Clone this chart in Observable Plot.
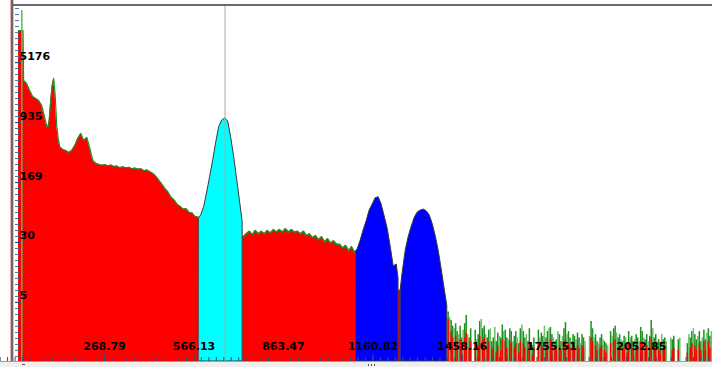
<!DOCTYPE html>
<html><head><meta charset="utf-8">
<script src="https://cdn.jsdelivr.net/npm/d3@7"></script>
<script src="https://cdn.jsdelivr.net/npm/@observablehq/plot@0.6"></script>
<style>
html,body{margin:0;padding:0;background:#fff;overflow:hidden;width:712px;height:367px}
#chart{position:absolute;left:0;top:0}
.chrome{position:absolute}
#scroll{left:0;top:361px;width:712px;height:6px;background:#f0f0f0;border-top:1px solid #a0a0a0;box-sizing:border-box}
.dot{position:absolute;width:1px;height:2px;background:#555;top:2px}
</style></head><body>
<div id="chart"></div>
<div class="chrome" style="left:10px;top:0;width:1px;height:361px;background:#e0b0b0"></div>
<div class="chrome" style="left:11px;top:0;width:2px;height:361px;background:#6a6a6a"></div>
<div class="chrome" style="left:13px;top:0;width:1px;height:361px;background:#c8c8c8"></div>
<div class="chrome" style="left:12px;top:4px;width:700px;height:2px;background:#6a6a6a"></div>
<div class="chrome" id="scroll">
  <div class="dot" style="left:22px;width:3px;height:1px;top:2px"></div>
  <div class="dot" style="left:368px"></div><div class="dot" style="left:371px"></div><div class="dot" style="left:374px"></div>
</div>
<script>
// ---- tick labels ----
const yTickValues = [5176, 935, 168.9, 30.5, 5.51];
const yTickLabels = ["5176", "935", "169", "30", "5"];
const xTickValues = [268.79, 566.13, 863.47, 1160.82, 1458.16, 1755.51, 2052.85];
const xTickLabels = ["268.79", "566.13", "863.47", "1160.82", "1458.16", "1755.51", "2052.85"];
const cursorE = [669.5];

// ---- spectrum: continuum before first peak (red) ----
const E1 = [-17, -2, 0, 10, 20, 30, 40, 50, 60, 70, 75, 80, 85, 90, 95, 100, 105, 110, 115, 120, 130, 140, 150, 160, 170, 180, 190, 200, 210, 220, 230, 240, 250, 260, 270, 280, 290, 300, 310, 320, 330, 340, 350, 360, 370, 380, 390, 400, 410, 420, 430, 440, 450, 460, 470, 480, 490, 500, 510, 520, 530, 540, 550, 560, 570, 580, 583];
const C1 = [12900, 12900, 3100, 2850, 2330, 1960, 1860, 1755, 1520, 1080, 900, 790, 991, 1755, 2700, 3290, 2000, 860, 594, 470, 433, 421, 398, 421, 486, 594, 684, 561, 610, 446, 317, 291, 283, 276, 281, 272, 278, 266, 270, 258, 264, 256, 261, 250, 255, 247, 250, 236, 242, 230, 219, 201, 179, 160, 142, 129, 111, 103, 91, 86, 79, 80, 72, 71, 64, 63, 61];
const spikeE = [-6];
const spikeC = [22900];

// ---- first peak (cyan) ----
const E2 = [583, 590, 600, 610, 620, 630, 640, 650, 660, 670, 680, 690, 700, 710, 720, 728];
const C2 = [61, 66, 84, 127, 198, 317, 525, 825, 991, 1050, 960, 600, 345, 179, 93, 55];

// ---- continuum between peaks (red) ----
const E3 = [728, 730, 740, 750, 760, 770, 780, 790, 800, 810, 820, 830, 840, 850, 860, 870, 880, 890, 900, 910, 920, 930, 940, 950, 960, 970, 980, 990, 1000, 1010, 1020, 1030, 1040, 1050, 1060, 1070, 1080, 1090, 1100, 1106];
const C3 = [36, 36, 39, 42, 38, 43, 39, 42, 39, 43, 40, 44, 41, 44, 41, 45, 41, 44, 41, 42, 39, 42, 37, 39, 35, 37, 33, 36, 31, 34, 30, 32, 29, 29, 26, 28, 24, 27, 23, 24];

// ---- doublet (blue), with red gap ----
const E4 = [1106, 1110, 1120, 1130, 1140, 1150, 1160, 1170, 1180, 1190, 1200, 1210, 1220, 1230, 1240, 1246];
const C4 = [24, 25, 32, 43, 56, 76, 90, 108, 111, 90, 64, 45, 27, 15.4, 16.3, 11];
const E5 = [1246, 1253];
const C5 = [7.8, 7.8];
const E6 = [1253, 1260, 1270, 1280, 1290, 1300, 1310, 1320, 1330, 1340, 1350, 1360, 1370, 1380, 1390, 1400, 1408];
const C6 = [7.8, 13.1, 24.3, 36, 48, 62, 72, 76, 78, 74, 66, 51, 36, 23.5, 13.7, 7.8, 5.0];

// ---- high-energy noise (bin starts, raw green, smoothed red) ----
const noiseStart = [1410,1415,1420,1425,1430,1435,1440,1445,1450,1455,1460,1465,1470,1475,1480,1485,1490,1495,1500,1505,1510,1515,1520,1525,1530,1535,1540,1545,1550,1555,1560,1565,1570,1575,1580,1585,1590,1595,1600,1605,1610,1615,1620,1625,1630,1635,1640,1645,1650,1655,1660,1665,1670,1675,1680,1685,1690,1695,1700,1705,1710,1715,1720,1725,1730,1735,1740,1745,1750,1755,1760,1765,1770,1775,1780,1785,1790,1795,1800,1805,1810,1815,1820,1825,1830,1835,1840,1845,1850,1855,1860,1865,1870,1875,1880,1885,1890,1895,1900,1905,1910,1915,1920,1925,1930,1935,1940,1945,1950,1955,1960,1965,1970,1975,1980,1985,1990,1995,2000,2005,2010,2015,2020,2025,2030,2035,2040,2045,2050,2055,2060,2065,2070,2075,2080,2085,2090,2095,2100,2105,2110,2115,2120,2125,2130,2135,2140,2145,2150,2155,2160,2165,2170,2175,2180,2185,2190,2195,2200,2205,2210,2215,2220,2225,2230,2235,2240,2245,2250,2255,2260,2265,2270,2275,2280,2285];
const noiseGreen = [4.2,3.6,3.3,2.8,2.6,3.0,2.4,2.2,2.8,2.0,2.5,3.0,3.8,2.2,2.0,2.6,0,0,2.5,1.9,2.2,3.2,3.4,2.6,2.8,2.2,2.0,2.5,2.6,1.8,2.0,2.7,1.8,2.3,2.1,2.0,2.9,2.4,2.5,2.0,1.9,2.6,2.4,1.8,2.1,2.4,2.0,1.7,2.6,2.9,2.4,2.0,2.2,1.8,2.6,1.7,1.6,2.0,0,0,2.5,2.0,2.3,2.1,2.8,2.0,2.4,2.6,2.7,2.2,2.0,1.8,1.9,2.4,2.2,1.8,2.1,2.6,3.1,2.2,2.4,2.0,1.8,2.2,2.1,1.9,2.3,2.0,1.7,2.2,2.0,1.8,0,0,2.1,3.2,2.6,2.0,2.2,1.8,1.7,2.0,2.2,1.9,1.8,1.7,1.6,0,2.4,2.1,2.6,2.8,2.3,2.0,2.2,1.9,1.8,2.1,2.0,1.7,2.4,2.0,2.1,1.8,1.9,2.2,2.0,1.8,2.7,2.4,2.0,1.9,2.2,1.8,2.1,3.3,2.6,2.0,2.2,1.8,1.9,1.7,2.2,1.9,2.0,1.8,0,0,2.0,1.9,2.1,0,0,1.9,2.0,0,0,0,0,1.7,2.2,2.0,2.4,2.6,2.2,1.9,2.1,2.4,1.8,2.0,2.5,1.9,2.3,2.6,2.1,2.4,1.9,2.2,2.0,2.3,1.9,2.2,2.5];
const noiseRed = [3.4,2.8,2.4,2.0,1.9,2.1,1.8,1.6,1.9,1.5,1.8,2.0,2.3,1.6,1.5,1.8,0,0,1.7,1.5,1.6,2.1,2.2,1.9,2.0,1.6,1.5,1.8,1.9,1.4,1.5,1.8,1.3,1.6,1.5,1.4,1.9,1.7,1.8,1.5,1.4,1.8,1.7,1.3,1.5,1.7,1.5,1.3,1.8,1.9,1.7,1.5,1.6,1.4,1.8,1.3,1.2,1.5,0,0,1.7,1.5,1.6,1.5,1.9,1.5,1.7,1.8,1.9,1.6,1.5,1.4,1.4,1.7,1.6,1.4,1.5,1.8,1.9,1.6,1.7,1.5,1.4,1.6,1.5,1.4,1.6,1.5,1.3,1.6,1.5,1.4,0,0,1.5,2.0,1.8,1.5,1.6,1.4,1.3,1.5,1.6,1.4,1.4,1.3,1.2,0,1.7,1.5,1.8,1.9,1.6,1.5,1.6,1.4,1.4,1.5,1.5,1.3,1.7,1.5,1.5,1.4,1.4,1.6,1.5,1.4,1.8,1.7,1.5,1.4,1.6,1.4,1.5,2.0,1.8,1.5,1.6,1.4,1.4,1.3,1.6,1.4,1.5,1.4,0,0,1.5,1.4,1.5,0,0,1.4,1.5,0,0,0,0,1.3,1.6,1.5,1.7,1.8,1.6,1.4,1.5,1.7,1.4,1.5,1.8,1.4,1.6,1.8,1.5,1.7,1.4,1.6,1.5,1.6,1.4,1.6,1.7];
const noiseStep = 5;

// ---- build tables ----
const Y_MIN = 1.022, Y_MAX = 26370;
const rows = (E, C) => E.map((e, i) => ({e, c: C[i]}));
const noise = noiseStart.map((e, i) => ({e0: e, e1: e + noiseStep, g: noiseGreen[i], r: noiseRed[i], k: i % 3}));
const ratio = yTickValues[0] / yTickValues[1];
const yMinor = d3.range(-52, 12).map(j => yTickValues[0] * Math.pow(ratio, j / 10)).filter(v => v > Y_MIN && v < Y_MAX);
const xStep = xTickValues[1] - xTickValues[0];
const xMinor = d3.range(-14, 90).map(j => xTickValues[0] + j * xStep / 12);
const yLab = yTickValues.map((v, i) => ({v, t: yTickLabels[i]}));
const xLab = xTickValues.map((v, i) => ({v, t: xTickLabels[i]}));

const RED = "#ff0000", GREEN = "#1f8f1f", LGREEN = "#6cbf6c", CYAN = "#00ffff", BLUE = "#0000ff", OUT = "#3a3a3a", TICK = "#2c4f80";
const base = () => Y_MIN;
const font = "DejaVu Sans";
const plotH = 361 - 5;

const chart = Plot.plot({
  width: 712, height: 361,
  marginLeft: 15, marginRight: 0, marginTop: 5, marginBottom: 0,
  style: {background: "transparent", overflow: "visible"},
  x: {domain: [-27, 2289.5], axis: null},
  y: {type: "log", domain: [Y_MIN, Y_MAX], axis: null},
  marks: [
    Plot.areaY(rows(E1, C1), {x: "e", y1: base, y2: "c", fill: RED}),
    Plot.areaY(rows(E3, C3), {x: "e", y1: base, y2: "c", fill: RED}),
    Plot.areaY(rows(E5, C5), {x: "e", y1: base, y2: "c", fill: RED}),
    Plot.lineY(rows(E1, C1), {x: "e", y: "c", stroke: GREEN, strokeWidth: 1.2}),
    Plot.lineY(rows(E3, C3), {x: "e", y: "c", stroke: GREEN, strokeWidth: 1.5}),
    Plot.ruleX(rows(spikeE, spikeC), {x: "e", y1: base, y2: "c", stroke: "#5cb85c", strokeWidth: 1.5}),
    Plot.areaY(rows(E2, C2), {x: "e", y1: base, y2: "c", fill: CYAN, stroke: OUT, strokeWidth: 1}),
    Plot.areaY(rows(E4, C4), {x: "e", y1: base, y2: "c", fill: BLUE, stroke: OUT, strokeWidth: 1}),
    Plot.areaY(rows(E6, C6), {x: "e", y1: base, y2: "c", fill: BLUE, stroke: OUT, strokeWidth: 1}),
    Plot.rectY(noise.filter(d => d.g > 0), {x1: "e0", x2: "e1", y1: base, y2: "g", fill: d => d.k === 1 ? LGREEN : GREEN}),
    Plot.rectY(noise.filter(d => d.r > 0 && d.k !== 1), {x1: "e0", x2: "e1", y1: base, y2: "r", fill: RED}),
    Plot.ruleX(cursorE, {x: d => d, stroke: "#a8a8a8", strokeWidth: 1}),
    Plot.tickY(yMinor, {y: d => d, stroke: "#4a74a8", insetRight: 697 - 4}),
    Plot.tickY(yTickValues, {y: d => d, stroke: TICK, strokeWidth: 1.2, insetRight: 697 - 6}),
    Plot.tickX(xMinor, {x: d => d, stroke: TICK, insetTop: plotH - 4}),
    Plot.tickX(xTickValues, {x: d => d, stroke: TICK, insetTop: plotH - 7}),
    Plot.text(yLab, {y: "v", text: "t", frameAnchor: "left", dx: 4, dy: -3, textAnchor: "start", lineAnchor: "bottom", fontWeight: "bold", fontSize: 11, fontFamily: font, fill: "#000"}),
    Plot.text(xLab, {x: "v", text: "t", frameAnchor: "bottom", dy: -12, lineAnchor: "bottom", fontWeight: "bold", fontSize: 11, fontFamily: font, fill: "#000"})
  ]
});
document.getElementById("chart").appendChild(chart);
</script>
</body></html>
